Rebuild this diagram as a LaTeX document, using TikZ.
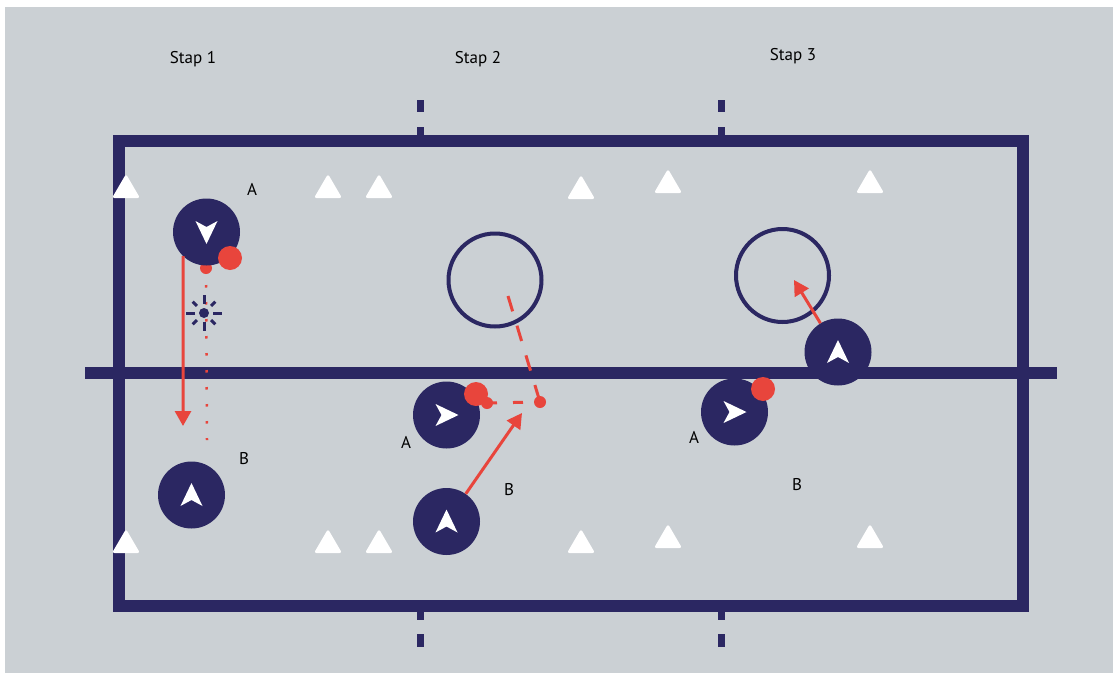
\documentclass[tikz,border=0pt]{standalone}
\usepackage{fontspec}
\setmainfont{PT Sans}
\usepackage{tikz}
\usetikzlibrary{arrows.meta}

\definecolor{court}{RGB}{43,39,98}
\definecolor{pass}{RGB}{232,69,60}
\definecolor{floor}{RGB}{203,208,212}

\tikzset{
	cone/.pic={\fill[white, rounded corners=2.5pt] (-14,12) -- (0,-12) -- (14,12) -- cycle;},
	pointer/.pic={\fill[white] (0,-12) -- (11,11) -- (0,5) -- (-11,11) -- cycle;},
	ball/.style={circle, fill=pass, minimum size=24pt, inner sep=0pt},
	spot/.style={circle, fill=pass, minimum size=12pt, inner sep=0pt},
	goal/.style={circle, draw=court, line width=4pt, minimum size=93pt, inner sep=0pt},
}

\begin{document}
\begin{tikzpicture}[x=1pt, y=-1pt]
	\useasboundingbox (0,0) rectangle (1113,672);
	\fill[white] (0,0) rectangle (1113,672);
	\fill[floor] (5,7) rectangle (1125,690);

	% veld
	\draw[court, line width=12pt] (119,141) rectangle (1023,605.5);
	\draw[court, line width=12pt] (85,373) -- (1057,373);
	\foreach \x in {420,721} {
		\draw[court, line width=7pt] (\x,100) -- (\x,112);
		\draw[court, line width=7pt] (\x,127) -- (\x,141);
		\draw[court, line width=7pt] (\x,605) -- (\x,620);
		\draw[court, line width=7pt] (\x,634) -- (\x,647);
	}

	% pionnen
	\pic at (126,186) {cone};
	\pic at (328,186) {cone};
	\pic at (379,186) {cone};
	\pic at (581,187) {cone};
	\pic at (668,181) {cone};
	\pic at (870,181) {cone};
	\pic at (126,541) {cone};
	\pic at (328,541) {cone};
	\pic at (379,541) {cone};
	\pic at (581,541) {cone};
	\pic at (668,536) {cone};
	\pic at (870,536) {cone};

	\begin{scope}[every node/.style={font=\fontsize{17}{20}\selectfont}]
		\node (stap1) at (193,59) {Stap 1};
		\node (stap2) at (478,59) {Stap 2};
		\node (stap3) at (793,56) {Stap 3};
		\node (labA1) at (252,189) {A};
		\node (labB1) at (244,459) {B};
		\node (labA2) at (406,442) {A};
		\node (labB2) at (509,490) {B};
		\node (labA3) at (694,437) {A};
		\node (labB3) at (797,485) {B};
	\end{scope}

	\node[goal] (goal2) at (495,280) {};
	\node[goal] (goal3) at (782.5,275.5) {};

	\node[spot] (s1dot) at (206,268) {};
	\coordinate (s1trail) at (207,440);
	\path[draw=pass, line width=2.5pt, dash pattern=on 2.5pt off 14.5pt] (s1dot.center) -- (s1trail);

	% spelers
	\begin{scope}[every node/.style={circle, fill=court, minimum size=67pt, inner sep=0pt}]
		\node (s1A) at (206.5,232) {};
		\node (s1B) at (191.5,495) {};
		\node (s2A) at (446.5,415) {};
		\node (s2B) at (446.5,521.5) {};
		\node (s3A) at (734.5,412) {};
		\node (s3B) at (838,352) {};
	\end{scope}
	\pic[rotate=180] at (s1A) {pointer};
	\pic at (s1B) {pointer};
	\pic[rotate=-90] at (s2A) {pointer};
	\pic at (s2B) {pointer};
	\pic[rotate=-90] at (s3A) {pointer};
	\pic at (s3B) {pointer};

	\node[ball] (s1ball) at (230,258) {};
	\node[ball] (s2ball) at (476,394) {};
	\node[spot] (s2dot) at (487,403) {};
	\node[spot] (s2turn) at (540,402) {};
	\node[ball] (s3ball) at (763,389) {};

	% markering
	\node[circle, fill=court, minimum size=10pt, inner sep=0pt] (s1mark) at (204,313) {};
	\foreach \a in {0,90,180,270}
		\draw[court, line width=3pt] (s1mark.center) ++(\a:9) -- ++(\a:9);
	\foreach \a in {45,135,225,315}
		\draw[court, line width=3pt] (s1mark.center) ++(\a:10) -- ++(\a:6);

	% passes en looplijnen
	\coordinate (s1run) at (183,426);
	\coordinate (s2aim) at (508,296);
	\coordinate (s2tip) at (522,413);
	\coordinate (s3tip) at (794,280);
	\begin{scope}[>={Triangle[length=15pt, width=16pt]},
			every edge/.style={draw=pass, line width=3pt}]
		\path [->] (s1A.-134) edge (s1run);
		\path [->] (s2B) edge (s2tip);
		\path [->] (s3B) edge (s3tip);
		\path [dash pattern=on 10pt off 16pt] (s2dot.center) edge (s2turn.center);
		\path [dash pattern=on 16pt off 15pt] (s2aim) edge (s2turn.center);
	\end{scope}
\end{tikzpicture}
\end{document}
